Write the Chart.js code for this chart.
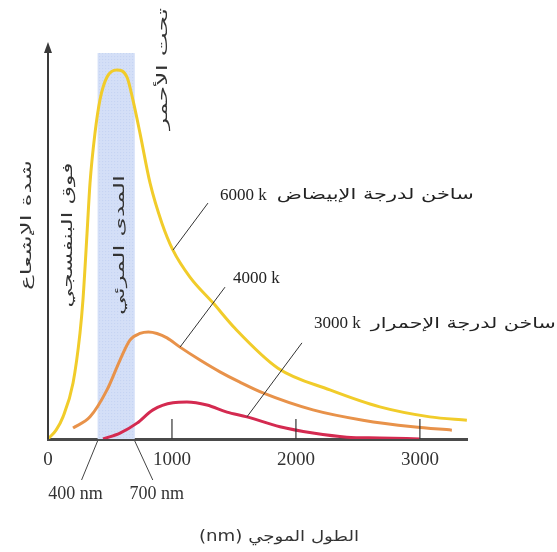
<!DOCTYPE html>
<html lang="ar">
<head>
  <meta charset="UTF-8">
  <title>إشعاع الجسم الأسود</title>
  <style>
    body { margin: 0; background: #fff; }
    #wrap { width: 557px; height: 552px; }
  </style>
</head>
<body>
  <div id="wrap">
    <canvas id="myChart" width="557" height="552"></canvas>
  </div>

  <script src="https://cdn.jsdelivr.net/npm/chart.js"></script>

  <script>
    // wavelength (nm) and relative intensity for each temperature
    const wavelengths6000 = [0, 65, 121, 202, 258, 282, 315, 339, 379, 419, 476, 556, 637, 685, 742, 823, 919, 1008, 1145, 1331, 1508, 1855, 2274, 2677, 3081, 3379];
    const intensity6000   = [0, 2.4, 6.0, 15.2, 28.7, 37.7, 55.8, 69.4, 82.9, 91.9, 98.1, 100, 98.1, 91.9, 82.9, 69.4, 58.5, 51.2, 43.9, 36.9, 30.0, 19.2, 13.3, 8.7, 6.0, 5.1];

    const wavelengths4000 = [202, 339, 476, 581, 661, 742, 810, 879, 960, 1065, 1226, 1387, 1548, 1734, 2137, 2540, 2944, 3258];
    const intensity4000   = [3.0, 6.0, 13.3, 21.4, 26.8, 28.6, 29.0, 28.6, 27.4, 24.9, 21.4, 18.2, 15.4, 12.5, 7.9, 5.1, 3.3, 2.4];

    const wavelengths3000 = [444, 581, 718, 847, 1008, 1121, 1282, 1444, 1605, 1871, 2137, 2411, 2677, 3000];
    const intensity3000   = [0, 1.6, 4.3, 7.9, 9.8, 10.0, 9.2, 7.3, 6.0, 3.3, 1.6, 0.5, 0.3, 0];

    const xTicks = [0, 1000, 2000, 3000];
    const visibleRange = [400, 700];
    const curveLabels = ['6000 k', '4000 k', '3000 k'];
    const curveNotes = ['ساخن لدرجة الإبيضاض', '', 'ساخن لدرجة الإحمرار'];
    const xTitle = 'الطول الموجي (nm)';
    const yTitle = 'شدة الإشعاع';

    const AR_FONT = '"DejaVu Sans", sans-serif';
    const NUM_FONT = '"Liberation Serif", serif';

    const toPoints = (xs, ys) => xs.map((x, i) => ({ x: x, y: ys[i] }));

    // where each leader line touches its curve (wavelength), and how it runs to the text
    const leaders = [
      { ds: 0, at: 1008, dx: 35, dy: -47, tx: 12, ty: -8, noteW: 197 },
      { ds: 1, at: 1065, dx: 45, dy: -60, tx: 8, ty: -9, noteW: 0 },
      { ds: 2, at: 1605, dx: 55, dy: -74, tx: 12, ty: -19, noteW: 185 }
    ];

    function valueAt(xs, ys, x) {
      return ys[xs.indexOf(x)];
    }

    const series = [
      [wavelengths6000, intensity6000],
      [wavelengths4000, intensity4000],
      [wavelengths3000, intensity3000]
    ];

    // arabic text stretched along its baseline to a given length
    function stretchedText(ctx, txt, x, y, len, align, rot, size) {
      ctx.save();
      ctx.font = (size || 15) + 'px ' + AR_FONT;
      ctx.direction = 'rtl';
      const w = ctx.measureText(txt).width;
      const sx = len ? len / w : 1;
      ctx.translate(x, y);
      if (rot) ctx.rotate(rot);
      ctx.scale(sx, 1);
      ctx.textAlign = align;
      ctx.textBaseline = 'middle';
      ctx.fillText(txt, 0, 0);
      ctx.restore();
    }

    const decorations = {
      id: 'decorations',
      beforeDatasetsDraw(chart) {
        const { ctx, chartArea, scales: { x, y } } = chart;
        // visible band
        const x0 = x.getPixelForValue(visibleRange[0]);
        const x1 = x.getPixelForValue(visibleRange[1]);
        const top = y.getPixelForValue(104.6);
        ctx.save();
        ctx.fillStyle = '#d4dff7';
        ctx.fillRect(x0, top, x1 - x0, chartArea.bottom - top);
        ctx.fillStyle = 'rgba(165,185,235,0.35)';
        for (let py = top; py < chartArea.bottom; py += 3) {
          for (let px = x0 + ((py / 3) % 2 ? 1.5 : 0); px < x1; px += 3) {
            ctx.fillRect(px, py, 1, 1);
          }
        }
        ctx.restore();
      },
      afterDraw(chart) {
        const { ctx, chartArea, scales: { x, y } } = chart;
        ctx.save();

        // y axis with arrow
        const ax = chartArea.left;
        ctx.strokeStyle = '#3a3a3a';
        ctx.lineWidth = 2;
        ctx.beginPath();
        ctx.moveTo(ax, chartArea.bottom);
        ctx.lineTo(ax, chartArea.top + 6);
        ctx.stroke();
        ctx.fillStyle = '#3a3a3a';
        ctx.beginPath();
        ctx.moveTo(ax, chartArea.top);
        ctx.lineTo(ax - 4, chartArea.top + 11);
        ctx.lineTo(ax + 4, chartArea.top + 11);
        ctx.closePath();
        ctx.fill();

        // inner tick marks
        ctx.strokeStyle = '#333';
        ctx.lineWidth = 1.2;
        xTicks.slice(1).forEach(v => {
          const px = x.getPixelForValue(v);
          ctx.beginPath();
          ctx.moveTo(px, chartArea.bottom);
          ctx.lineTo(px, chartArea.bottom - 20);
          ctx.stroke();
        });

        // 400 nm / 700 nm callouts
        ctx.lineWidth = 1;
        ctx.strokeStyle = '#444';
        const b = chartArea.bottom;
        const p400 = x.getPixelForValue(visibleRange[0]);
        const p700 = x.getPixelForValue(visibleRange[1]);
        ctx.beginPath();
        ctx.moveTo(p400, b + 2); ctx.lineTo(p400 - 16, b + 41);
        ctx.moveTo(p700, b + 2); ctx.lineTo(p700 + 18, b + 41);
        ctx.stroke();
        ctx.fillStyle = '#333';
        ctx.font = '18px ' + NUM_FONT;
        ctx.textAlign = 'center';
        ctx.textBaseline = 'middle';
        ctx.fillText(visibleRange[0] + ' nm', p400 - 22, b + 55);
        ctx.fillText(visibleRange[1] + ' nm', p700 + 22, b + 55);

        // curve callouts
        leaders.forEach((l, i) => {
          const [xs, ys] = series[l.ds];
          const ex = x.getPixelForValue(l.at);
          const ey = y.getPixelForValue(valueAt(xs, ys, l.at));
          const sx = ex + l.dx, sy = ey + l.dy;
          ctx.strokeStyle = '#333';
          ctx.lineWidth = 1;
          ctx.beginPath();
          ctx.moveTo(sx, sy);
          ctx.lineTo(ex, ey);
          ctx.stroke();
          ctx.textAlign = 'left';
          ctx.textBaseline = 'middle';
          ctx.fillStyle = '#222';
          ctx.font = '17px ' + NUM_FONT;
          const tx = sx + l.tx, ty = sy + l.ty;
          ctx.fillText(curveLabels[i], tx, ty);
          if (curveNotes[i]) {
            const w = ctx.measureText(curveLabels[i]).width;
            stretchedText(ctx, curveNotes[i], tx + w + 10 + l.noteW, ty, l.noteW, 'right', 0, 15);
          }
        });

        // vertical captions
        ctx.fillStyle = '#333';
        const up = -Math.PI / 2;
        stretchedText(ctx, yTitle, 27, 225, 130, 'center', up, 14);
        stretchedText(ctx, 'فوق البنفسجي', 68, 235, 145, 'center', up, 14);
        stretchedText(ctx, 'المدى المرئي', (p400 + p700) / 2 + 4, 245, 140, 'center', up, 14);
        stretchedText(ctx, 'تحت الأحمر', 163, 69, 122, 'center', up, 14);

        // x axis title
        stretchedText(ctx, xTitle, 279, 537, 160, 'center', 0, 15);
        ctx.restore();
      }
    };

    const colors = ['#f1cc2a', '#e8924a', '#d42a50'];

    new Chart(document.getElementById('myChart').getContext('2d'), {
      type: 'line',
      data: {
        datasets: series.map(([xs, ys], i) => ({
          label: curveLabels[i],
          data: toPoints(xs, ys),
          borderColor: colors[i],
          borderWidth: 3,
          pointRadius: 0,
          cubicInterpolationMode: 'monotone',
          fill: false
        }))
      },
      options: {
        responsive: false,
        animation: false,
        layout: { padding: { left: 48, right: 90, top: 42, bottom: 73 } },
        plugins: { legend: { display: false }, tooltip: { enabled: false } },
        scales: {
          x: {
            type: 'linear',
            min: 0,
            max: 3380,
            grid: { display: false, drawTicks: false },
            border: { display: true, color: '#4a4a4a', width: 3 },
            afterBuildTicks: scale => { scale.ticks = xTicks.map(v => ({ value: v })); },
            afterFit: scale => { scale.height = 40; },
            ticks: {
              padding: 10,
              color: '#333',
              font: { family: 'Liberation Serif', size: 19 },
              callback: v => String(v)
            }
          },
          y: {
            type: 'linear',
            min: 0,
            max: 107.6,
            display: false
          }
        }
      },
      plugins: [decorations]
    });
  </script>
</body>
</html>
